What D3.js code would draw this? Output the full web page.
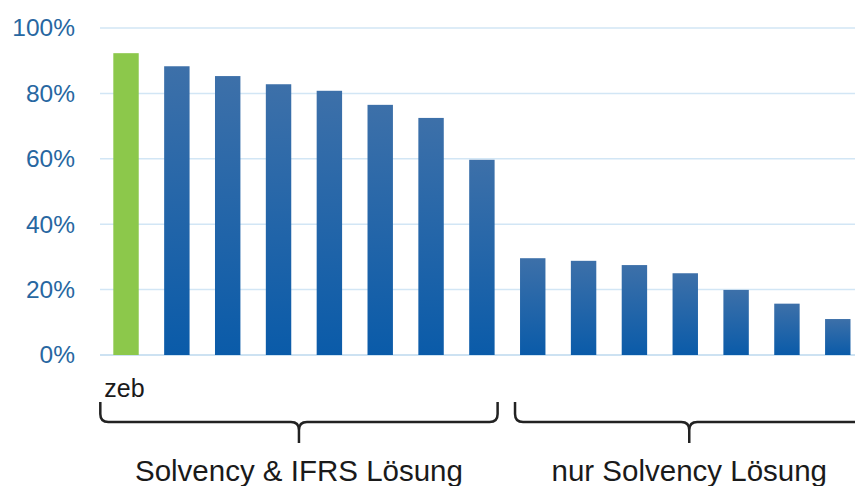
<!DOCTYPE html>
<html>
<head>
<meta charset="utf-8">
<script src="https://cdnjs.cloudflare.com/ajax/libs/d3/7.8.5/d3.min.js"></script>
<style>
  body { margin: 0; background: #fff; }
  svg { display: block; font-family: "Liberation Sans", Arial, sans-serif; }
</style>
</head>
<body>
<div id="chart"></div>
<script>
var width = 855;
var height = 486;

// data
var categories = ["zeb", "b2", "b3", "b4", "b5", "b6", "b7", "b8",
                  "b9", "b10", "b11", "b12", "b13", "b14", "b15"];
var values = [92.3, 88.3, 85.3, 82.8, 80.8, 76.5, 72.5, 59.7,
              29.6, 28.8, 27.5, 25.0, 19.9, 15.7, 11.0];
var yTicks = [0, 20, 40, 60, 80, 100];
var groupLabels = ["Solvency & IFRS Lösung", "nur Solvency Lösung"];
var groupFirst = ["zeb", "b9"];
var groupLast = ["b8", "b15"];

var svg = d3.select("#chart")
            .append("svg")
            .attr("width", width)
            .attr("height", height);

var grad = svg.append("defs")
              .append("linearGradient")
              .attr("id", "blueGrad")
              .attr("x1", 0).attr("y1", 0).attr("x2", 0).attr("y2", 1);
grad.append("stop").attr("offset", "0%").attr("stop-color", "#3d70a9");
grad.append("stop").attr("offset", "100%").attr("stop-color", "#0a5ba9");

var x = d3.scaleBand()
          .domain(categories)
          .range([100.6, 863.2])
          .paddingInner(0.5)
          .paddingOuter(0.25);

var y = d3.scaleLinear()
          .domain([0, 100])
          .range([355, 28]);

// gridlines
svg.append("g")
   .selectAll("line")
   .data(yTicks)
   .enter()
   .append("line")
   .attr("x1", 100)
   .attr("x2", width)
   .attr("y1", function(d) { return y(d); })
   .attr("y2", function(d) { return y(d); })
   .attr("stroke", function(d) { return d === 0 ? "#bcd8ee" : "#d2e6f5"; })
   .attr("stroke-width", 1.5);

// y axis labels
var yAxis = d3.axisLeft(y)
              .tickValues(yTicks)
              .tickFormat(function(d) { return d + "%"; })
              .tickSize(0)
              .tickPadding(0);
var yg = svg.append("g")
            .attr("transform", "translate(75,0)")
            .call(yAxis);
yg.select(".domain").remove();
yg.selectAll("text")
  .attr("font-size", 24.5)
  .attr("font-family", "'Liberation Sans', Arial, sans-serif")
  .attr("fill", "#2767a1");

// bars
svg.append("g")
   .selectAll("rect")
   .data(values)
   .enter()
   .append("rect")
   .attr("x", function(d, i) { return x(categories[i]); })
   .attr("y", function(d) { return y(d); })
   .attr("width", x.bandwidth())
   .attr("height", function(d) { return y(0) - y(d); })
   .attr("fill", function(d, i) { return i === 0 ? "#8cc84b" : "url(#blueGrad)"; });

// "zeb" label under first bar
svg.append("text")
   .attr("x", x("zeb") - 9)
   .attr("y", 397)
   .attr("font-size", 25)
   .attr("fill", "#1a1a1a")
   .text("zeb");

// curly braces + group labels
function bracePath(x0, x1) {
  var top = 402, mid = 422, tip = 443, r = 8;
  var c = (x0 + x1) / 2;
  return "M" + x0 + "," + top +
         " L" + x0 + "," + (mid - r) +
         " Q" + x0 + "," + mid + " " + (x0 + r) + "," + mid +
         " L" + (c - r) + "," + mid +
         " Q" + c + "," + mid + " " + c + "," + (mid + r) +
         " L" + c + "," + tip +
         " M" + c + "," + (mid + r) +
         " Q" + c + "," + mid + " " + (c + r) + "," + mid +
         " L" + (x1 - r) + "," + mid +
         " Q" + x1 + "," + mid + " " + x1 + "," + (mid - r) +
         " L" + x1 + "," + top;
}

var braceStart = [-13, -5];
var braceEnd = [x.bandwidth() + 3, x.bandwidth() + 13];

groupLabels.forEach(function(label, i) {
  var x0 = x(groupFirst[i]) + braceStart[i];
  var x1 = x(groupLast[i]) + braceEnd[i];
  svg.append("path")
     .attr("d", bracePath(x0, x1))
     .attr("fill", "none")
     .attr("stroke", "#222")
     .attr("stroke-width", 2.5);
  svg.append("text")
     .attr("x", (x0 + x1) / 2)
     .attr("y", 481)
     .attr("text-anchor", "middle")
     .attr("font-size", 29.5)
     .attr("fill", "#1a1a1a")
     .text(label);
});
</script>
</body>
</html>
